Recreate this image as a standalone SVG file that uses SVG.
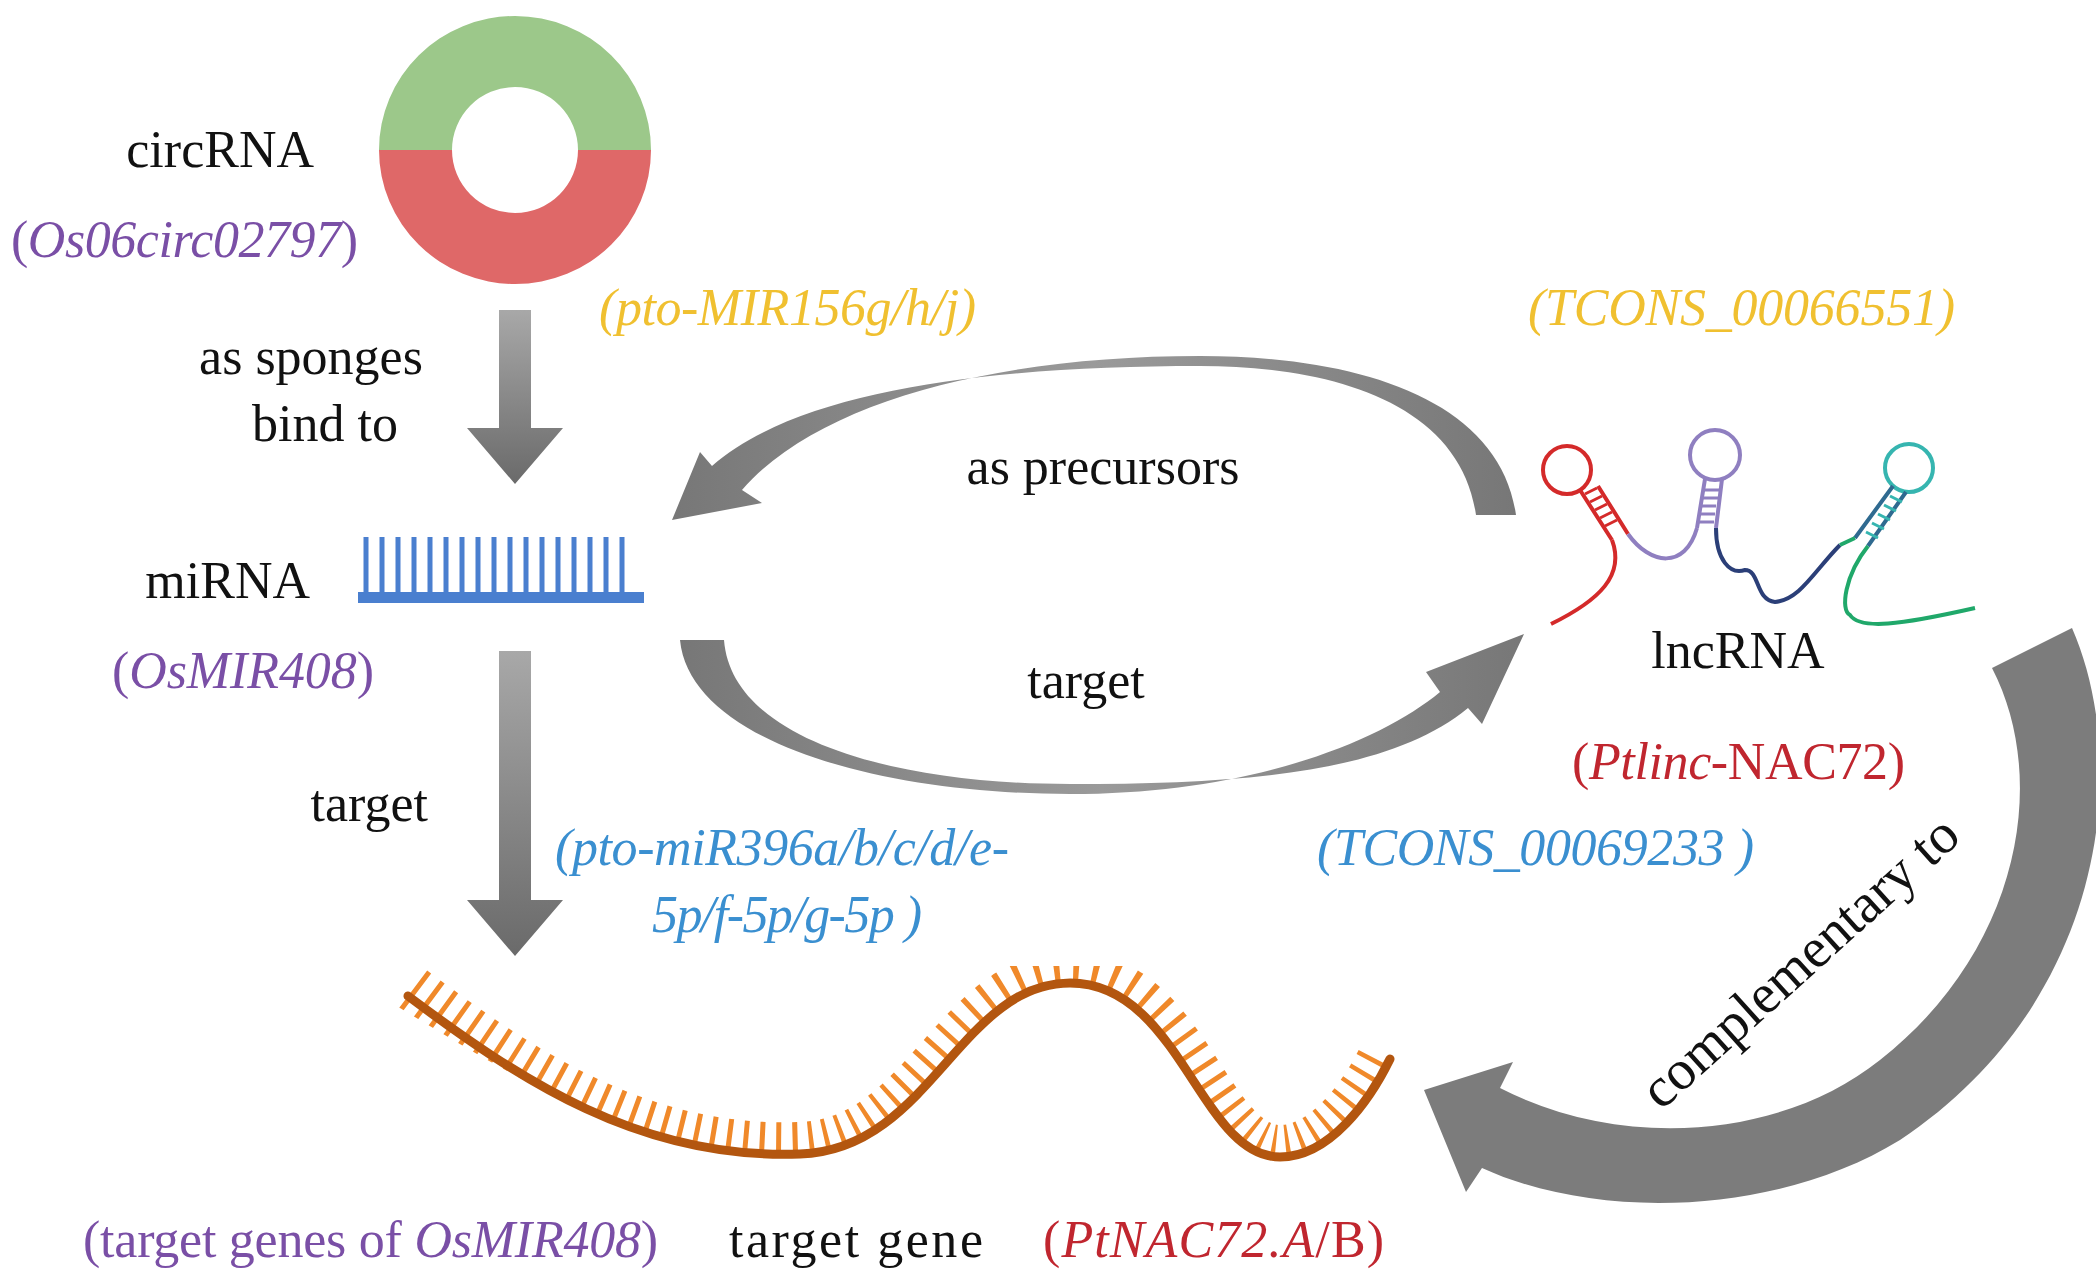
<svg xmlns="http://www.w3.org/2000/svg" width="2096" height="1279" viewBox="0 0 2096 1279">
<defs>
<linearGradient id="gv" x1="0" y1="0" x2="0" y2="1"><stop offset="0" stop-color="#a8a8a8"/><stop offset="1" stop-color="#6a6a6a"/></linearGradient>
<linearGradient id="gh" x1="0" y1="0" x2="1" y2="0"><stop offset="0" stop-color="#777"/><stop offset="0.5" stop-color="#9a9a9a"/><stop offset="1" stop-color="#777"/></linearGradient>
<mask id="above"><path d="M380,996 C520,1080 640,1160 800,1154 C930,1150 960,983 1070,983 C1180,983 1200,1157 1280,1157 C1330,1157 1370,1100 1395,1055 L1395,0 L380,0 Z" fill="#fff"/></mask>
</defs>
<style>
text{font-family:"Liberation Serif","Times New Roman",serif;font-size:52px}
.k{fill:#111}.pu{fill:#7a4fa6}.go{fill:#f0c030}.bl{fill:#3a8fd0}.rd{fill:#c0262f}
.i{font-style:italic}
</style>
<rect width="2096" height="1279" fill="#fff"/>

<g id="connectors">
<path d="M499,310 H531 V428 H563 L515,484 L467,428 H499 Z" fill="url(#gv)"/>
<path d="M499,651 H531 V900 H563 L515,956 L467,900 H499 Z" fill="url(#gv)"/>
<path d="M1516,515 C1500,400 1360,356 1200,356 C1000,356 820,400 742,490 L762,503 L672,520 L700,452 L712,466 C800,388 1000,366 1200,366 C1330,366 1460,402 1476,515 Z" fill="url(#gh)"/>
<path d="M680,640 C690,742 880,794 1070,794 C1250,794 1380,742 1440,692 L1426,672 L1524,634 L1482,724 L1468,708 C1390,772 1250,784 1070,784 C900,784 732,742 724,640 Z" fill="url(#gh)"/>
<path d="M2072,628 C2130,760 2110,1000 1900,1140 C1780,1214 1600,1222 1482,1168 L1466,1192 L1424,1090 L1513,1062 L1500,1088 C1620,1150 1780,1140 1880,1060 C2020,950 2050,780 1992,668 Z" fill="#7c7c7c"/>
</g>

<g id="circRNA">
<path d="M379,150 A136,134 0 0 1 651,150 H578 A63,63 0 0 0 452,150 Z" fill="#9cc88a"/>
<path d="M379,150 A136,134 0 0 0 651,150 H578 A63,63 0 0 1 452,150 Z" fill="#df6868"/>
<text x="314" y="167" text-anchor="end" class="k">circRNA</text>
<text x="11" y="257" class="pu" textLength="347"><tspan>(</tspan><tspan class="i">Os06circ02797</tspan><tspan>)</tspan></text>
</g>

<g id="miRNA">
<rect x="358" y="592" width="286" height="11" fill="#4a7fcf"/>
<path d="M366,537V592 M382,537V592 M398,537V592 M414,537V592 M430,537V592 M446,537V592 M462,537V592 M478,537V592 M494,537V592 M510,537V592 M526,537V592 M542,537V592 M558,537V592 M574,537V592 M590,537V592 M606,537V592 M622,537V592" stroke="#4a7fcf" stroke-width="5"/>
<text x="310" y="598" text-anchor="end" class="k">miRNA</text>
<text x="112" y="688" class="pu" textLength="262"><tspan>(</tspan><tspan class="i">OsMIR408</tspan><tspan>)</tspan></text>
</g>

<g id="lncRNA" fill="none" stroke-width="4">
<circle cx="1567" cy="470" r="24" stroke="#d42a2a"/>
<path d="M1580,490 L1612,540 M1598,486 L1628,534" stroke="#d42a2a"/>
<path d="M1585,494 l12,-6 M1590,502 l12,-6 M1595,510 l12,-6 M1600,518 l12,-6 M1605,526 l12,-6" stroke="#d42a2a" stroke-width="3"/>
<path d="M1612,540 C1625,575 1600,600 1551,624" stroke="#d42a2a"/>
<circle cx="1715" cy="455" r="25" stroke="#8f7fc0"/>
<path d="M1705,479 L1697,528 M1722,479 L1716,528" stroke="#8f7fc0"/>
<path d="M1703,490 h16 M1702,498 h16 M1700,506 h16 M1699,514 h16 M1698,522 h16" stroke="#8f7fc0" stroke-width="3"/>
<path d="M1628,534 C1650,565 1685,570 1697,528" stroke="#8f7fc0"/>
<path d="M1716,528 C1716,560 1730,575 1745,570 C1760,570 1755,600 1775,602 C1800,600 1815,570 1840,545" stroke="#2b3f78"/>
<circle cx="1909" cy="468" r="24" stroke="#36b5b0"/>
<path d="M1893,486 L1855,538 M1906,492 L1868,546" stroke="#2f6a90"/>
<path d="M1890,496 l12,6 M1884,505 l12,6 M1878,514 l12,6 M1872,523 l12,6 M1866,532 l12,6" stroke="#36b5b0" stroke-width="3"/>
<path d="M1840,545 L1855,538 M1868,546 C1845,575 1840,610 1850,615 C1860,630 1900,625 1975,608" stroke="#20a86a"/>
<text x="1738" y="668" text-anchor="middle" class="k" stroke="none">lncRNA</text>
<text x="1572" y="779" class="rd" stroke="none" textLength="333"><tspan>(</tspan><tspan class="i">Ptlinc</tspan><tspan>-NAC72)</tspan></text>
</g>

<g id="targetgene">
<path d="M408,996 C520,1080 640,1160 800,1154 C930,1150 960,983 1070,983 C1180,983 1200,1157 1280,1157 C1330,1157 1370,1100 1390,1059" fill="none" stroke="#f0892a" stroke-width="64" stroke-dasharray="5 12" mask="url(#above)"/>
<path d="M408,996 C520,1080 640,1160 800,1154 C930,1150 960,983 1070,983 C1180,983 1200,1157 1280,1157 C1330,1157 1370,1100 1390,1059" fill="none" stroke="#b3560f" stroke-width="9" stroke-linecap="round"/>
<text x="83" y="1257" class="pu" textLength="575"><tspan>(target genes of </tspan><tspan class="i">OsMIR408</tspan><tspan>)</tspan></text>
<text x="729" y="1257" class="k" textLength="254">target gene</text>
<text x="1043" y="1257" class="rd" textLength="341"><tspan>(</tspan><tspan class="i">PtNAC72.A</tspan><tspan>/B)</tspan></text>
</g>

<g id="labels">
<text x="311" y="374" text-anchor="middle" class="k">as sponges</text>
<text x="325" y="441" text-anchor="middle" class="k">bind to</text>
<text x="599" y="325" class="go i" textLength="377">(pto-MIR156g/h/j)</text>
<text x="1528" y="325" class="go i" textLength="427">(TCONS_00066551)</text>
<text x="1103" y="484" text-anchor="middle" class="k">as precursors</text>
<text x="1086" y="698" text-anchor="middle" class="k">target</text>
<text x="428" y="821" text-anchor="end" class="k">target</text>
<text x="555" y="865" class="bl i" textLength="454">(pto-miR396a/b/c/d/e-</text>
<text x="652" y="932" class="bl i" textLength="270">5p/f-5p/g-5p )</text>
<text x="1317" y="865" class="bl i" textLength="437">(TCONS_00069233 )</text>
<text x="1800" y="980" text-anchor="middle" class="k" style="font-size:56px" transform="rotate(-42 1800 962)">complementary to</text>
</g>
</svg>
